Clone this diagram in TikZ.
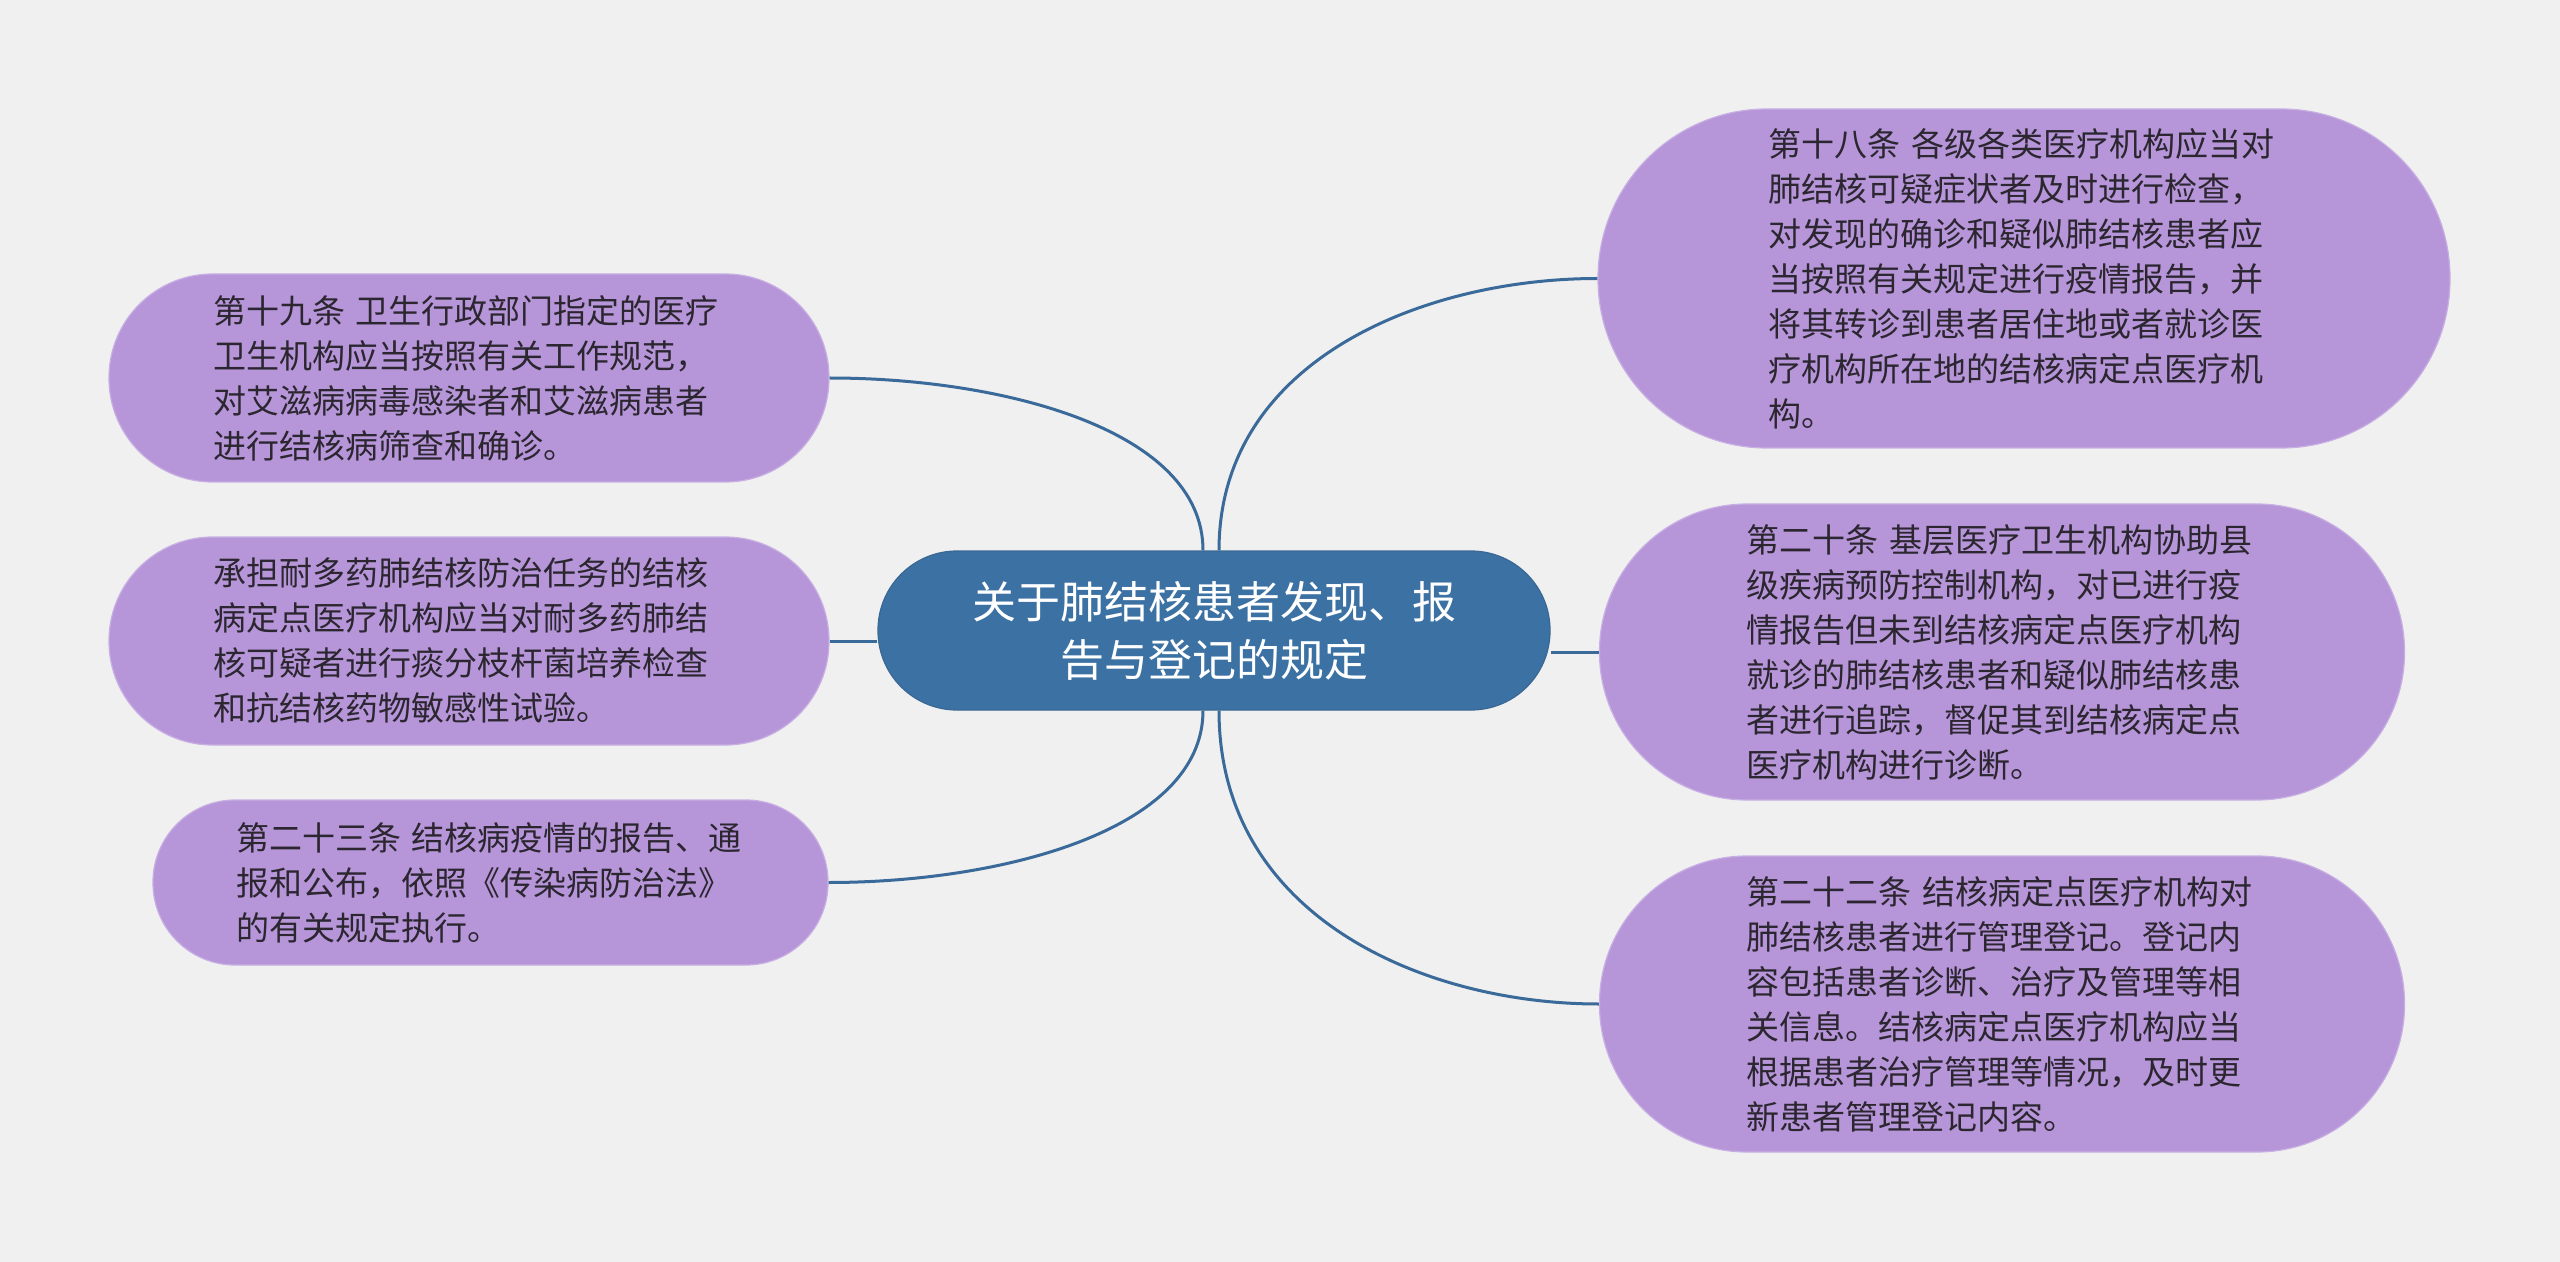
\documentclass[tikz,border=0pt]{standalone}
\usepackage{fontspec}
\setmainfont{Noto Sans CJK SC}
\usetikzlibrary{calc}
\definecolor{bgc}{HTML}{F0F0F0}
\definecolor{leaffill}{HTML}{B696D9}
\definecolor{leafedge}{HTML}{C7AEE3}
\definecolor{rootfill}{HTML}{3C71A3}
\definecolor{rootedge}{HTML}{3A6894}
\definecolor{linkc}{HTML}{3A6A99}
\definecolor{txtc}{HTML}{2B2630}
\tikzset{
  leafbox/.style={draw=leafedge, line width=0.6pt, fill=leaffill, inner sep=0pt,
    text=txtc, align=left, font=\fontsize{16.5pt}{22.5pt}\selectfont},
  rootbox/.style={draw=rootedge, line width=0.6pt, fill=rootfill, inner sep=0pt,
    text=white, align=center, font=\fontsize{22pt}{29pt}\selectfont},
  link/.style={draw=linkc, line width=1.5pt}
}
\begin{document}
\begin{tikzpicture}[x=0.5pt,y=-0.5pt]
\fill[bgc] (0,0) rectangle (2560,1262);
\useasboundingbox (0,0) rectangle (2560,1262);

% central node
\node[rootbox, minimum width=336pt, minimum height=79.5pt, rounded corners=39.5pt]
  (c) at (1214,630.5) {关于肺结核患者发现、报\\告与登记的规定};

% left nodes
\node[leafbox, minimum width=360pt, minimum height=104pt, rounded corners=51.8pt, text width=256pt]
  (L1) at (469,378) {第十九条 卫生行政部门指定的医疗\\卫生机构应当按照有关工作规范，\\对艾滋病病毒感染者和艾滋病患者\\进行结核病筛查和确诊。};
\node[leafbox, minimum width=360pt, minimum height=104pt, rounded corners=51.8pt, text width=256pt]
  (L2) at (469,641) {承担耐多药肺结核防治任务的结核\\病定点医疗机构应当对耐多药肺结\\核可疑者进行痰分枝杆菌培养检查\\和抗结核药物敏感性试验。};
\node[leafbox, minimum width=337.5pt, minimum height=82.5pt, rounded corners=41pt, text width=254.5pt]
  (L3) at (490.5,882.5) {第二十三条 结核病疫情的报告、通\\报和公布，依照《传染病防治法》\\的有关规定执行。};

% right nodes
\node[leafbox, minimum width=426pt, minimum height=169.5pt, rounded corners=84.5pt, text width=256pt]
  (R1) at (2024,278.5) {第十八条 各级各类医疗机构应当对\\肺结核可疑症状者及时进行检查，\\对发现的确诊和疑似肺结核患者应\\当按照有关规定进行疫情报告，并\\将其转诊到患者居住地或者就诊医\\疗机构所在地的结核病定点医疗机\\构。};
\node[leafbox, minimum width=402.5pt, minimum height=148pt, rounded corners=73.8pt, text width=256pt]
  (R2) at (2002,652) {第二十条 基层医疗卫生机构协助县\\级疾病预防控制机构，对已进行疫\\情报告但未到结核病定点医疗机构\\就诊的肺结核患者和疑似肺结核患\\者进行追踪，督促其到结核病定点\\医疗机构进行诊断。};
\node[leafbox, minimum width=402.5pt, minimum height=148pt, rounded corners=73.8pt, text width=256pt]
  (R3) at (2002,1004) {第二十二条 结核病定点医疗机构对\\肺结核患者进行管理登记。登记内\\容包括患者诊断、治疗及管理等相\\关信息。结核病定点医疗机构应当\\根据患者治疗管理等情况，及时更\\新患者管理登记内容。};

% connector anchor points on the central node
\coordinate (cTL) at ($(c.north)+(-11,0)$);
\coordinate (cTR) at ($(c.north)+(5,0)$);
\coordinate (cBL) at ($(c.south)+(-11,0)$);
\coordinate (cBR) at ($(c.south)+(5,0)$);

% connectors
\draw[link] (cTL) .. controls ($(cTL)+(0,-121)$) and ($(L1.east)+(172,0)$) .. (L1.east);
\draw[link] (L2.east) -- (L2.east -| c.west);
\draw[link] (cBL) .. controls ($(cBL)+(0,120)$) and ($(L3.east)+(172,0)$) .. (L3.east);
\draw[link] (cTR) .. controls ($(cTR)+(0,-190)$) and ($(R1.west)+(-174,0)$) .. (R1.west);
\draw[link] (R2.west) -- (R2.west -| c.east);
\draw[link] (cBR) .. controls ($(cBR)+(0,206)$) and ($(R3.west)+(-175,0)$) .. (R3.west);
\end{tikzpicture}
\end{document}
